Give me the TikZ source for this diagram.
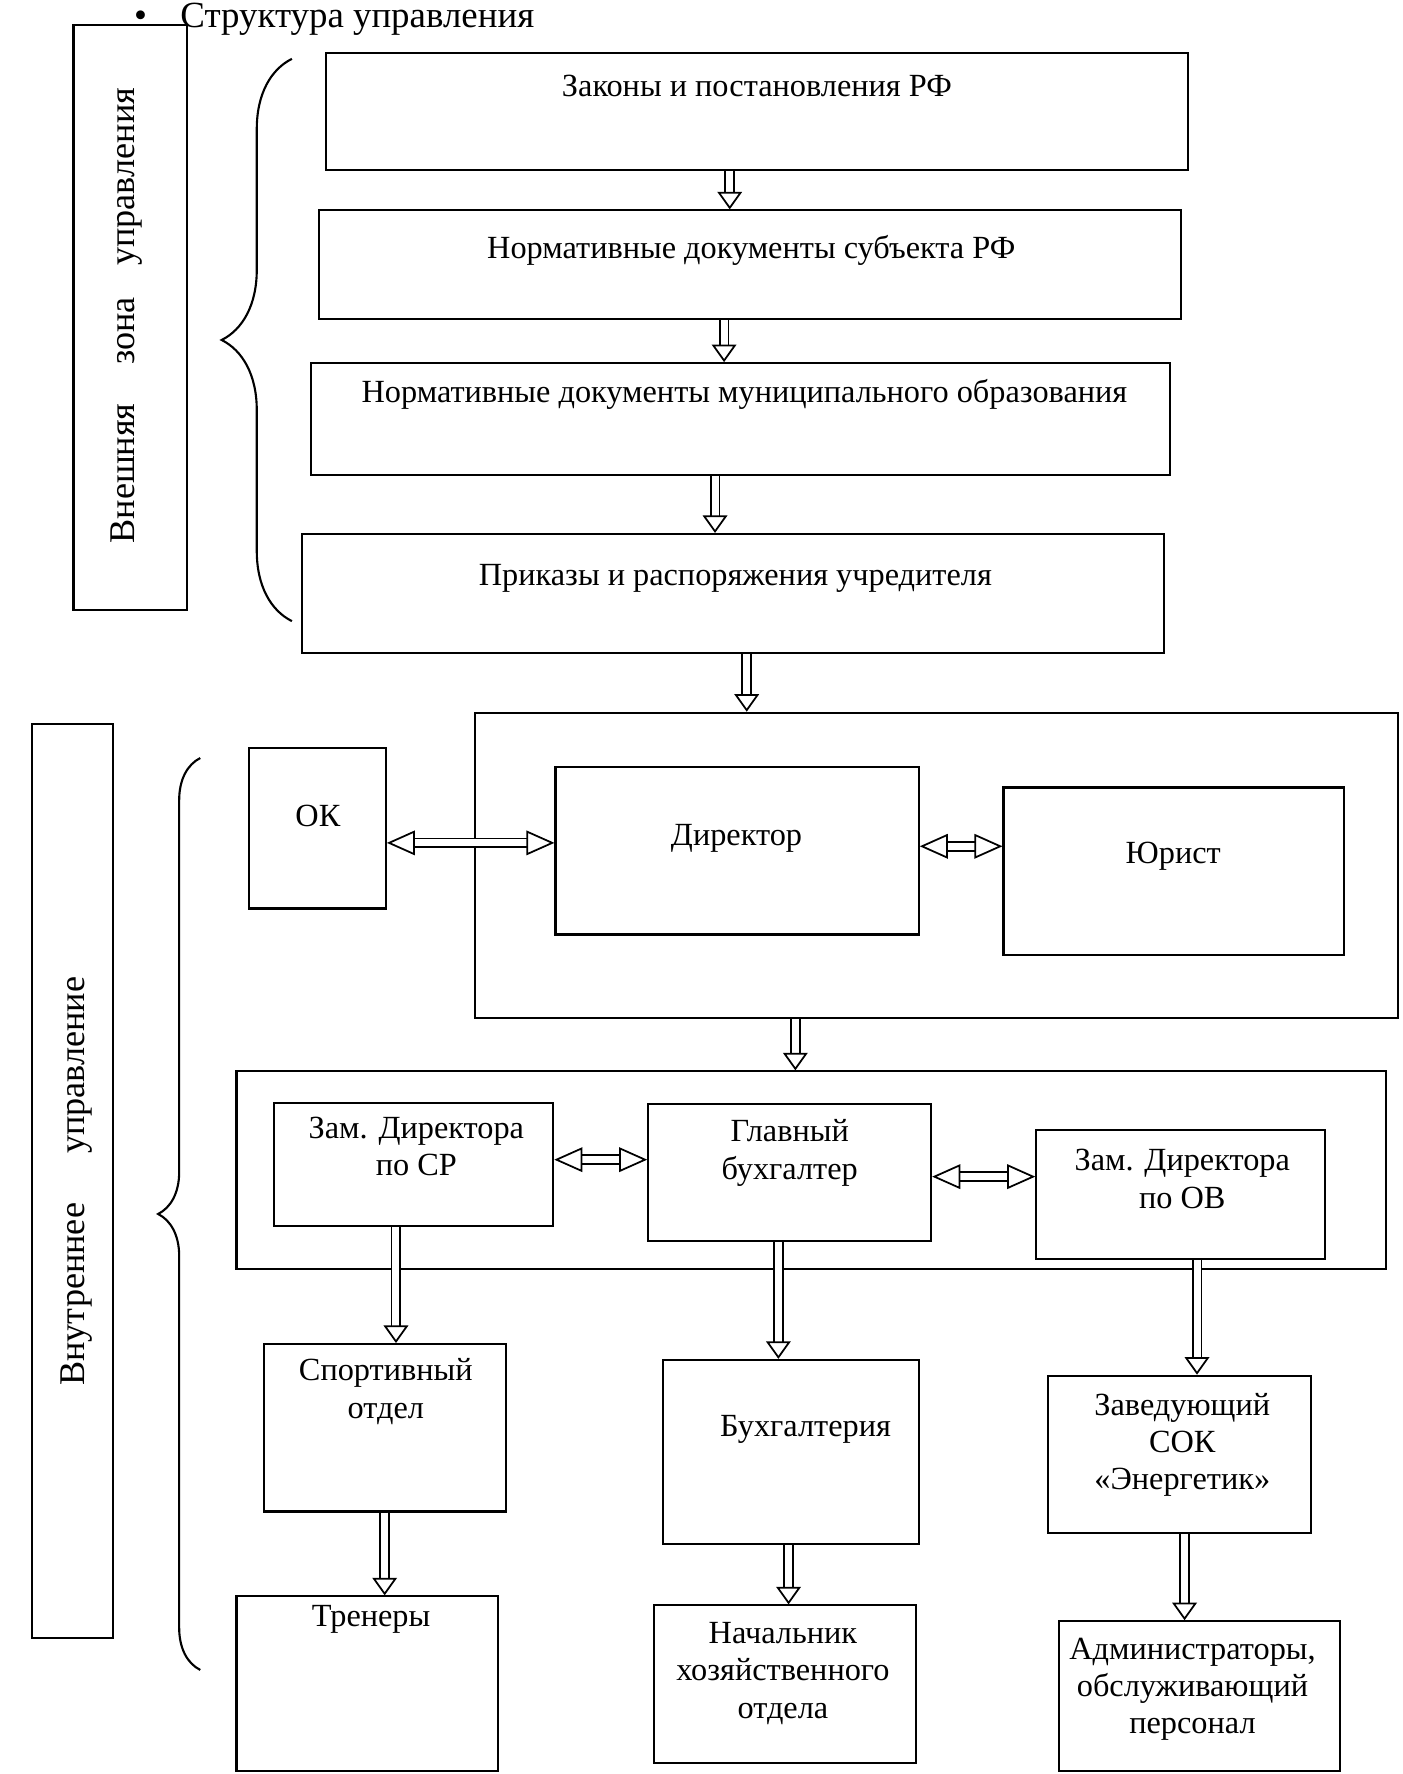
\documentclass[tikz,border=0pt]{standalone}
\usepackage{fontspec}
\setmainfont{Liberation Serif}
\usetikzlibrary{arrows.meta,fit,decorations.pathreplacing}

\tikzset{
  box/.style={draw, line width=0.6pt, inner sep=0pt},
  txt/.style={font=\fontsize{9.2}{10.6}\selectfont, align=center, inner sep=0pt},
  side/.style={font=\fontsize{10.3}{12}\selectfont, rotate=90, inner sep=0pt},
  down/.style={double, double distance=2pt, line width=0.5pt,
    -{Triangle[open, width=7pt, length=5pt, line width=0.5pt]}},
  both/.style={double, double distance=2pt, line width=0.5pt,
    {Triangle[open, width=7pt, length=8pt, line width=0.5pt]}-{Triangle[open, width=7pt, length=8pt, line width=0.5pt]}},
  curly/.style={line width=0.6pt, decorate, decoration={brace, amplitude=#1}},
}

\begin{document}
\begin{tikzpicture}[x=0.011315cm, y=-0.011315cm]
  \useasboundingbox (0,0) rectangle (1240,1568);

  % Title
  \node[font=\fontsize{10.5}{12}\selectfont, anchor=base west, inner sep=0pt] (title) at (118,24)
    {\textbullet\hspace{9.5pt}Структура управления};

  % Side labels
  \node[box, fit={(65,22) (165,539)}] (ext) {};
  \node[side] (extT) at (112,279) {Внешняя\hspace{11pt}зона\hspace{9pt}управления};
  \node[box, fit={(28,640) (100,1448)}] (int) {};
  \node[side] (intT) at (68,1044) {Внутреннее\hspace{14pt}управление};

  % Braces
  \draw[curly=20pt] (258,549) -- (258,52);
  \draw[curly=12pt] (177,1476) -- (177,670);

  % External zone
  \node[box, fit={(288,47) (1050,150)}] (zakony) {};
  \node[txt] (zakonyT) at (669,76) {Законы и постановления РФ};
  \node[box, fit={(282,186) (1044,282)}] (subekt) {};
  \node[txt] (subektT) at (664,221) {Нормативные документы субъекта РФ};
  \node[box, fit={(275,321) (1034,420)}] (munic) {};
  \node[txt] (municT) at (658,349) {Нормативные документы муниципального образования};
  \node[box, fit={(267,472) (1029,577)}] (prikaz) {};
  \node[txt] (prikazT) at (650,511) {Приказы и распоряжения учредителя};

  \draw[down] (zakony.south -| 645,0) -- (subekt.north -| 645,0);
  \draw[down] (subekt.south -| 640,0) -- (munic.north -| 640,0);
  \draw[down] (munic.south -| 632,0) -- (prikaz.north -| 632,0);

  % Director level
  \node[box, fit={(420,630) (1236,900)}] (top) {};
  \node[box, fit={(220,661) (341,803)}] (ok) {};
  \node[txt] (okT) at (281,721) {ОК};
  \node[box, fit={(491,678) (812,826)}] (dir) {};
  \node[txt] (dirT) at (651,741) {Директор};
  \node[box, fit={(887,696) (1188,844)}] (yur) {};
  \node[txt] (yurT) at (1037,757) {Юрист};

  \draw[down] (prikaz.south -| 660,0) -- (top.north -| 660,0);
  \draw[both] (ok.east |- 0,745) -- (dir.west |- 0,745);
  \draw[both] (dir.east |- 0,748) -- (yur.west |- 0,748);

  % Deputies
  \node[box, fit={(209,947) (1225,1122)}] (mid) {};
  \node[box, fit={(242,975) (489,1084)}] (zsr) {};
  \node[txt] (zsrT) at (368,1013) {Зам. Директора\\по СР};
  \node[box, fit={(573,976) (823,1097)}] (glb) {};
  \node[txt] (glbT) at (698,1019) {Главный\\бухгалтер};
  \node[box, fit={(916,999) (1171,1113)}] (zov) {};
  \node[txt] (zovT) at (1045,1042) {Зам. Директора\\по ОВ};

  \draw[down] (top.south -| 703,0) -- (mid.north -| 703,0);
  \draw[both] (zsr.east |- 0,1025) -- (glb.west |- 0,1025);
  \draw[both] (glb.east |- 0,1040) -- (zov.west |- 0,1040);

  % Departments
  \node[box, fit={(233,1188) (447,1336)}] (sport) {};
  \node[txt] (sportT) at (341,1230) {Спортивный\\отдел};
  \node[box, fit={(586,1202) (812,1365)}] (buh) {};
  \node[txt] (buhT) at (712,1263) {Бухгалтерия};
  \node[box, fit={(926,1216) (1159,1355)}] (zav) {};
  \node[txt] (zavT) at (1045,1277) {Заведующий\\СОК\\«Энергетик»};

  \draw[down] (zsr.south -| 350,0) -- (sport.north -| 350,0);
  \draw[down] (glb.south -| 688,0) -- (buh.north -| 688,0);
  \draw[down] (zov.south -| 1058,0) -- (zav.north -| 1058,0);

  % Staff
  \node[box, fit={(209,1411) (440,1565)}] (tren) {};
  \node[txt] (trenT) at (328,1431) {Тренеры};
  \node[box, fit={(578,1419) (810,1558)}] (nach) {};
  \node[txt] (nachT) at (692,1479) {Начальник\\хозяйственного\\отдела};
  \node[box, fit={(936,1433) (1184,1565)}] (adm) {};
  \node[txt] (admT) at (1054,1493) {Администраторы,\\обслуживающий\\персонал};

  \draw[down] (sport.south -| 340,0) -- (tren.north -| 340,0);
  \draw[down] (buh.south -| 697,0) -- (nach.north -| 697,0);
  \draw[down] (zav.south -| 1047,0) -- (adm.north -| 1047,0);
\end{tikzpicture}
\end{document}
